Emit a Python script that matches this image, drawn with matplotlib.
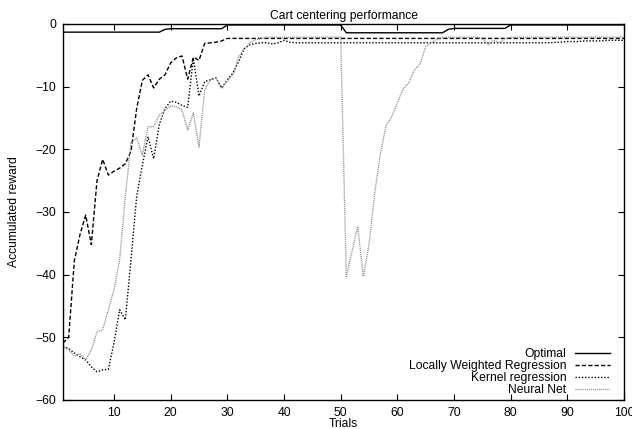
import matplotlib
matplotlib.use("Agg")
import matplotlib.pyplot as plt
import numpy as np

plt.rcParams['font.family'] = ['Liberation Sans', 'DejaVu Sans']

trials = list(range(1, 101))

optimal = ([-1.3] * 18 + [-0.85] + [-0.75] * 10 + [-0.15] * 21 +
           [-1.4] * 18 + [-0.85] + [-0.7] * 10 + [-0.15] * 21)

lwr = [-50.9, -50.0, -37.8, -33.6, -30.5, -35.2, -25.0, -21.6, -24.1, -23.5,
       -23.0, -22.3, -20.3, -13.5, -9.0, -8.1, -10.2, -8.8, -8.1, -6.2,
       -5.4, -5.1, -8.8, -5.3, -5.8, -3.1, -3.0, -2.9, -2.7] + [-2.3] * 71

kernel = [-51.5, -51.8, -52.5, -53.1, -53.6, -54.7, -55.5, -55.2, -55.1, -50.9,
          -45.6, -47.2, -37.6, -27.5, -22.5, -18.0, -21.5, -16.0, -13.5, -12.3,
          -12.5, -13.0, -13.3, -5.5, -11.5, -9.2, -8.9, -8.6, -10.2, -8.9,
          -7.8, -6.0, -3.9, -3.3, -3.1, -3.0, -3.0, -3.2, -3.0, -2.6,
          -2.9] + [-3.0] * 46 + [-2.9, -2.9, -2.8, -2.8, -2.8, -2.7, -2.7,
                                 -2.7, -2.7, -2.6, -2.6, -2.6, -2.6]

neural = [-51.5, -52.0, -53.0, -52.6, -53.6, -52.0, -49.1, -48.8, -45.6, -42.4,
          -37.6, -27.5, -19.0, -18.2, -20.9, -16.4, -16.4, -14.5, -13.8, -13.1,
          -13.2, -13.7, -16.9, -14.2, -19.6, -10.5, -8.9, -8.6, -10.3, -9.1,
          -8.1, -5.2, -4.0, -3.0, -2.5, -2.3] + [-2.1] * 14 + \
         [-40.3, -36.3, -32.3, -40.3, -35.2, -27.0, -20.8, -16.2, -14.8, -12.6,
          -10.4, -9.4, -7.3, -6.4, -3.6, -3.0, -2.4, -2.2] + [-2.1] * 6 + \
         [-2.3, -3.3, -2.6, -3.0, -2.3] + [-2.1] * 21

xticks = [10, 20, 30, 40, 50, 60, 70, 80, 90, 100]
yticks = [0, -10, -20, -30, -40, -50, -60]

fs = 8.7
fig = plt.figure(figsize=(6.32, 4.29), dpi=100)
ax = fig.add_axes([63 / 632, 1 - 400 / 429, (624 - 63) / 632, (400 - 24) / 429])

ax.plot(trials, optimal, color='black', lw=1.0, ls='-', label='Optimal')
ax.plot(trials, lwr, color='black', lw=1.0, dashes=[3.0, 1.6],
        label='Locally Weighted Regression')
ax.plot(trials, kernel, color='black', lw=1.0, dashes=[1.0, 1.3],
        label='Kernel regression')
ax.plot(trials, neural, color='#8a8a8a', lw=1.0, dashes=[0.7, 0.7],
        label='Neural Net')

ax.set_xlim(1, 100)
ax.set_ylim(-60, 0)
ax.set_xticks(xticks)
ax.set_yticks(yticks)
ax.tick_params(direction='in', top=True, right=True, length=4.5, width=0.8,
               labelsize=fs, pad=5)
for s in ax.spines.values():
    s.set_linewidth(1.0)

ax.set_title('Cart centering performance', fontsize=fs, pad=3.5)
ax.set_xlabel('Trials', fontsize=fs, labelpad=-1)
ax.set_ylabel('Accumulated reward', fontsize=fs, labelpad=11)

leg = ax.legend(loc='lower right', bbox_to_anchor=(0.975, 0.01), frameon=False,
                fontsize=fs, markerfirst=False, handlelength=2.9,
                handletextpad=0.7, labelspacing=0.0, borderpad=0,
                borderaxespad=0)
for t in leg.get_texts():
    t.set_ha('right')

fig.savefig('out.png', dpi=100)
